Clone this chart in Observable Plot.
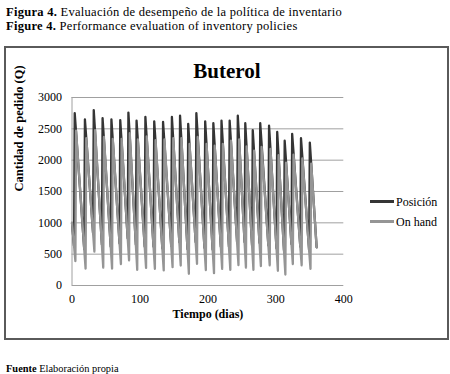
<!DOCTYPE html>
<html><head><meta charset="utf-8">
<script src="https://cdn.jsdelivr.net/npm/d3@7"></script>
<script src="https://cdn.jsdelivr.net/npm/@observablehq/plot@0.6"></script>
<style>
body{margin:0;background:#fff;}
#page{position:relative;width:450px;height:374px;overflow:hidden;font-family:"Liberation Serif",serif;color:#000;}
.abs{position:absolute;white-space:nowrap;}
#chart svg, #chart svg text{font-family:"Liberation Serif",serif !important;}
</style></head><body>
<div id="page">
  <div class="abs" style="left:6px;top:6px;font-size:12.5px;line-height:12px;letter-spacing:0.28px;"><b>Figura 4.</b> Evaluación de desempeño de la política de inventario</div>
  <div class="abs" style="left:6px;top:19.5px;font-size:12.5px;line-height:12px;letter-spacing:0.28px;"><b>Figure 4.</b> Performance evaluation of inventory policies</div>
  <div id="chart" class="abs" style="left:0;top:46px;"></div>
  <div class="abs" style="left:4px;top:46px;width:441px;height:290px;border:2px solid #5a5a5a;"></div>
  <div class="abs" style="left:127px;width:200px;text-align:center;top:60.7px;font-size:21px;line-height:21px;font-weight:bold;">Buterol</div>
  <div class="abs" id="leg1" style="left:370px;top:195.5px;height:12px;line-height:12px;display:flex;align-items:center;font-size:12px;"><span style="width:24px;height:3px;background:#353535;display:inline-block"></span><span style="margin-left:2px">Posición</span></div>
  <div class="abs" id="leg2" style="left:370px;top:215.5px;height:12px;line-height:12px;display:flex;align-items:center;font-size:12px;"><span style="width:24px;height:2.5px;background:#959595;display:inline-block"></span><span style="margin-left:2px">On hand</span></div>
  <div class="abs" style="left:6px;top:363.6px;font-size:10.4px;line-height:10px;"><b>Fuente</b> Elaboración propia</div>
</div>
<script>
// ---- data ----
const seriesNames = ["Posición", "On hand"];
// day on which the inventory position peaks (order placed)
const orderDay = [4, 19, 32, 45, 58, 71, 83, 95, 108, 121, 134, 147, 159, 171, 183, 196, 208, 220, 232, 244, 255, 266, 277, 290, 302, 313, 324, 337, 350];
// peak of "Posición" right after each order
const posPeak = [2750, 2650, 2800, 2670, 2650, 2640, 2760, 2630, 2690, 2620, 2610, 2690, 2710, 2580, 2750, 2620, 2590, 2630, 2630, 2710, 2590, 2480, 2590, 2550, 2450, 2310, 2420, 2350, 2280];
// "Posición" just before each order (reorder level)
const posLow = [630, 580, 840, 650, 620, 670, 750, 650, 620, 620, 590, 630, 690, 580, 690, 600, 570, 620, 620, 690, 690, 640, 680, 640, 590, 560, 660, 620, 560];
// "On hand" minimum just before each arrival
const ohTrough = [390, 270, 540, 285, 270, 340, 400, 250, 280, 266, 240, 292, 319, 187, 346, 245, 196, 265, 250, 325, 285, 250, 310, 320, 235, 175, 340, 320, 266];
// "On hand" right after each arrival
const ohPeak = [2470, 2350, 2480, 2370, 2340, 2340, 2430, 2330, 2380, 2320, 2330, 2350, 2350, 2260, 2370, 2260, 2230, 2260, 2310, 2330, 2220, 2150, 2210, 2180, 2080, 1960, 2090, 2030, 1945];
const startDay = 0, startValue = 1000;
const endDay = 360, endValue = 610;
const xTicks = [0, 100, 200, 300, 400];
const yTicks = [0, 500, 1000, 1500, 2000, 2500, 3000];
const xLabel = "Tiempo (dias)";
const yLabel = "Cantidad de pedido (Q)";

// ---- build line vertices ----
const posData = [{day: startDay, value: startValue}];
const ohData = [{day: startDay, value: startValue}];
orderDay.forEach((d, i) => {
  posData.push({day: d - 1, value: posLow[i]}, {day: d, value: posPeak[i]});
  ohData.push({day: d + 1, value: ohTrough[i]}, {day: d + 2, value: ohPeak[i]});
});
posData.push({day: endDay, value: endValue});
ohData.push({day: endDay, value: endValue});

const chart = Plot.plot({
  width: 450, height: 294,
  marginLeft: 71.5, marginRight: 106.7, marginTop: 51, marginBottom: 55,
  style: {fontFamily: "Liberation Serif", fontSize: "12px", background: "transparent", color: "#000"},
  x: {domain: [0, 400]},
  y: {domain: [0, 3000]},
  marks: [
    Plot.gridY(yTicks, {stroke: "#a0a0a0", strokeOpacity: 1, strokeWidth: 1}),
    Plot.ruleX([0], {stroke: "#a0a0a0", strokeWidth: 1}),
    Plot.axisY({ticks: yTicks, tickSize: 0, tickPadding: 10, label: null, tickFormat: d => String(d)}),
    Plot.axisX({ticks: xTicks, tickSize: 0, tickPadding: 9, label: null, tickFormat: d => String(d)}),
    Plot.line(posData, {x: "day", y: "value", stroke: "#353535", strokeWidth: 2.3}),
    Plot.line(ohData, {x: "day", y: "value", stroke: "#959595", strokeWidth: 2.3}),
    Plot.text([yLabel], {text: d => d, frameAnchor: "left", dx: -53.5, rotate: -90, fontWeight: "bold", fontSize: 12.5}),
    Plot.text([xLabel], {text: d => d, frameAnchor: "bottom", dy: 32, fontWeight: "bold", fontSize: 12})
  ]
});
document.getElementById("chart").appendChild(chart);
</script>
</body></html>
